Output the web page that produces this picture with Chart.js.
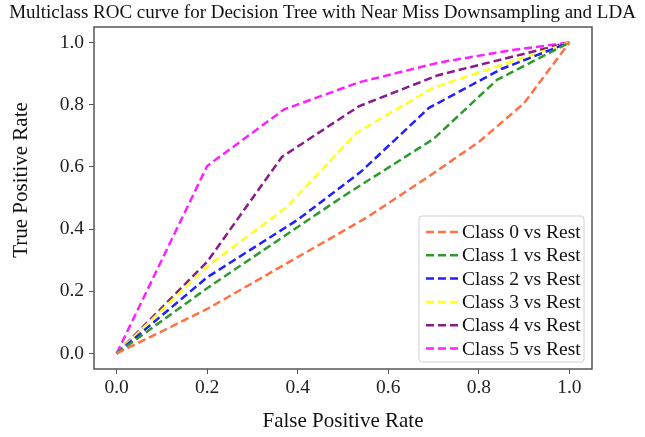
<!DOCTYPE html>
<html>
<head>
<meta charset="utf-8">
<script src="https://cdn.jsdelivr.net/npm/chart.js@4"></script>
<style>
  html, body { margin: 0; padding: 0; background: #fff; }
  #wrap { width: 645px; height: 437px; }
</style>
</head>
<body>
<div id="wrap"><canvas id="roc"></canvas></div>
<script>
// ===== data =====
const classLabels = ['Class 0 vs Rest', 'Class 1 vs Rest', 'Class 2 vs Rest',
                     'Class 3 vs Rest', 'Class 4 vs Rest', 'Class 5 vs Rest'];
const lineColors = ['#ff7043', '#2e9a2e', '#2020ff', '#ffff20', '#8b1a8b', '#ff20ff'];

const fpr0 = [0, 0.2, 0.37, 0.55, 0.69, 0.8, 0.9, 1];
const tpr0 = [0, 0.143, 0.285, 0.435, 0.57, 0.68, 0.805, 1];
const fpr1 = [0, 0.2, 0.5, 0.7, 0.84, 1];
const tpr1 = [0, 0.21, 0.505, 0.69, 0.88, 1];
const fpr2 = [0, 0.2, 0.4, 0.54, 0.69, 0.85, 1];
const tpr2 = [0, 0.245, 0.43, 0.585, 0.79, 0.915, 1];
const fpr3 = [0, 0.2, 0.375, 0.53, 0.7, 1];
const tpr3 = [0, 0.28, 0.47, 0.71, 0.855, 1];
const fpr4 = [0, 0.2, 0.365, 0.535, 0.71, 1];
const tpr4 = [0, 0.295, 0.632, 0.795, 0.895, 1];
const fpr5 = [0, 0.2, 0.37, 0.535, 0.71, 0.87, 1];
const tpr5 = [0, 0.603, 0.785, 0.872, 0.935, 0.975, 1];

const xTicks = [0, 0.2, 0.4, 0.6, 0.8, 1.0];
const yTicks = [0, 0.2, 0.4, 0.6, 0.8, 1.0];

const fprAll = [fpr0, fpr1, fpr2, fpr3, fpr4, fpr5];
const tprAll = [tpr0, tpr1, tpr2, tpr3, tpr4, tpr5];

const SERIF = '"Liberation Serif", "Times New Roman", serif';
const Y_TITLE = 'True Positive Rate';

// frame round the plot, y title, legend in lower right corner
const framePlugin = {
    id: 'frameAndLegend',
    afterDatasetsDraw(chart) {
        const ctx = chart.ctx;
        const a = chart.chartArea;
        ctx.save();
        ctx.strokeStyle = '#555';
        ctx.lineWidth = 1.5;
        ctx.strokeRect(a.left, a.top, a.right - a.left, a.bottom - a.top);

        // y axis title (sits a bit above the middle in the original)
        ctx.save();
        ctx.translate(21, 180);
        ctx.rotate(-Math.PI / 2);
        ctx.font = '21px ' + SERIF;
        ctx.fillStyle = '#111';
        ctx.textAlign = 'center';
        ctx.textBaseline = 'middle';
        ctx.fillText(Y_TITLE, 0, 0);
        ctx.restore();

        // legend box
        const boxW = 165, rowH = 23.3, boxH = 146;
        const bx = a.right - 8 - boxW, by = a.bottom - 7 - boxH;
        ctx.fillStyle = 'rgba(255,255,255,0.85)';
        ctx.strokeStyle = '#d0d0d0';
        ctx.lineWidth = 1;
        ctx.beginPath();
        ctx.roundRect(bx, by, boxW, boxH, 3);
        ctx.fill();
        ctx.stroke();

        ctx.font = '19.5px ' + SERIF;
        ctx.textBaseline = 'middle';
        chart.data.datasets.forEach((ds, i) => {
            const cy = by + 16 + i * rowH;
            ctx.strokeStyle = ds.borderColor;
            ctx.lineWidth = 2.5;
            ctx.setLineDash([8, 4]);
            ctx.beginPath();
            ctx.moveTo(bx + 7, cy);
            ctx.lineTo(bx + 39, cy);
            ctx.stroke();
            ctx.setLineDash([]);
            ctx.fillStyle = '#111';
            ctx.fillText(ds.label, bx + 43, cy + 1);
        });
        ctx.restore();
    }
};

const datasets = classLabels.map((lbl, i) => ({
    label: lbl,
    data: fprAll[i].map((x, j) => ({ x: x, y: tprAll[i][j] })),
    borderColor: lineColors[i],
    backgroundColor: lineColors[i],
    borderWidth: 2.5,
    borderDash: [8, 4],
    pointRadius: 0,
    tension: 0,
    fill: false
}));

new Chart(document.getElementById('roc').getContext('2d'), {
    type: 'line',
    data: { datasets: datasets },
    plugins: [framePlugin],
    options: {
        responsive: true,
        maintainAspectRatio: false,
        animation: false,
        layout: { padding: 0 },
        plugins: {
            legend: { display: false },
            tooltip: { enabled: false },
            title: {
                display: true,
                text: 'Multiclass ROC curve for Decision Tree with Near Miss Downsampling and LDA',
                color: '#111',
                font: { family: SERIF, size: 19, weight: 'normal', lineHeight: 1.2 },
                padding: { top: 2, bottom: 2.2 }
            }
        },
        scales: {
            x: {
                type: 'linear',
                min: -0.05,
                max: 1.05,
                afterBuildTicks: s => { s.ticks = xTicks.map(v => ({ value: v })); },
                afterFit: s => { s.height = 68; },
                grid: { display: true, drawOnChartArea: false, drawTicks: true, tickLength: 5, color: '#555' },
                border: { display: false },
                ticks: {
                    color: '#222',
                    padding: 2,
                    maxRotation: 0,
                    font: { family: SERIF, size: 19.5 },
                    callback: v => v.toFixed(1)
                },
                title: {
                    display: true,
                    text: 'False Positive Rate',
                    color: '#111',
                    font: { family: SERIF, size: 21, lineHeight: 1.2 },
                    padding: { top: 0, bottom: 3.4 }
                }
            },
            y: {
                type: 'linear',
                min: -0.05,
                max: 1.05,
                afterBuildTicks: s => { s.ticks = yTicks.map(v => ({ value: v })); },
                afterFit: s => { s.width = 94; },
                grid: { display: true, drawOnChartArea: false, drawTicks: true, tickLength: 5, color: '#555' },
                border: { display: false },
                ticks: {
                    color: '#222',
                    padding: 5,
                    font: { family: SERIF, size: 19.5 },
                    callback: v => v.toFixed(1)
                },
                title: { display: false }
            },
            // empty right-hand axis only to keep the gap on the right
            yRight: {
                type: 'linear',
                position: 'right',
                display: true,
                grid: { display: false },
                border: { display: false },
                ticks: { display: false },
                afterFit: s => { s.width = 53; }
            }
        }
    }
});
</script>
</body>
</html>
